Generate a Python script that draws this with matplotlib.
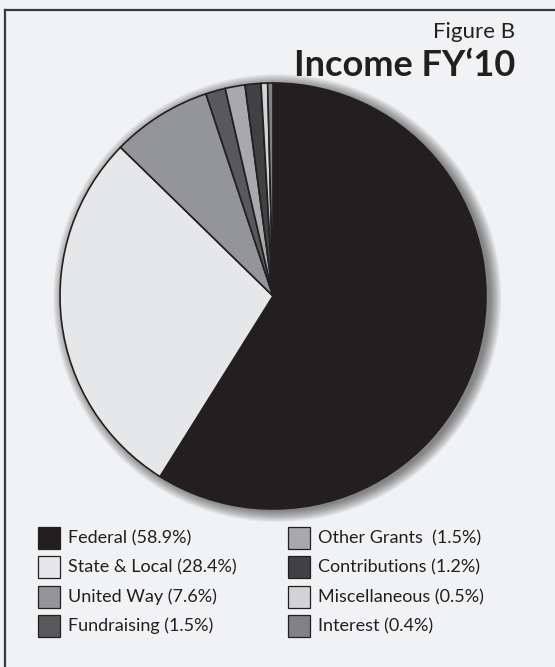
import matplotlib
matplotlib.use('Agg')
import matplotlib.pyplot as plt
from matplotlib.patches import Rectangle, Circle
from matplotlib.lines import Line2D

## data
labels = ['Federal', 'State & Local', 'United Way', 'Fundraising',
          'Other Grants', 'Contributions', 'Miscellaneous', 'Interest']
shares = [58.9, 28.4, 7.6, 1.5, 1.5, 1.2, 0.5, 0.4]
legend_text = ['Federal (58.9%)', 'State & Local (28.4%)', 'United Way (7.6%)',
               'Fundraising (1.5%)', 'Other Grants  (1.5%)', 'Contributions (1.2%)',
               'Miscellaneous (0.5%)', 'Interest (0.4%)']
colors = ['#231f20', '#e6e7e8', '#939598', '#58595b',
          '#a7a9ac', '#414042', '#d1d3d4', '#808285']

W, H = 555, 667
bg = '#f1f2f4'
font = 'Lato'

fig = plt.figure(figsize=(W / 100, H / 100), dpi=100, facecolor=bg)

## frame lines (top and left)
fig.add_artist(Line2D([5 / W, 1], [1 - 10 / H, 1 - 10 / H], color='#3a3a3c', lw=1.6))
fig.add_artist(Line2D([5 / W, 5 / W], [0, 1 - 10 / H], color='#3a3a3c', lw=1.6))

## pie
cx, cy, r = 273, 296, 213
ax = fig.add_axes([(cx - r) / W, 1 - (cy + r) / H, 2 * r / W, 2 * r / H])
ax.set_aspect('equal')
ax.axis('off')

# soft shadow, mostly to the right
for i in range(14):
    ax.add_patch(Circle((0.02, -0.01), 1 + 0.004 * i, color='#000000',
                        alpha=0.04, lw=0, zorder=0, clip_on=False))

ax.pie(shares, colors=colors, startangle=90, counterclock=False, radius=1,
       wedgeprops=dict(edgecolor='#231f20', linewidth=1.2, clip_on=False))
ax.set_xlim(-1, 1)
ax.set_ylim(-1, 1)

## titles
fig.text(515 / W, 1 - 38 / H, 'Figure B', ha='right', va='baseline',
         fontsize=16, family=font, color='#231f20')
fig.text(515 / W, 1 - 76 / H, 'Income FY\u201810', ha='right', va='baseline',
         fontsize=26, family=font, weight='bold', color='#231f20')

## legend
col_x = [38, 288]
row_y = [538, 567, 597, 626]
for i, (txt, c) in enumerate(zip(legend_text, colors)):
    x0 = col_x[i // 4]
    y0 = row_y[i % 4]
    fig.add_artist(Rectangle((x0 / W, 1 - (y0 + 11) / H), 22 / W, 22 / H,
                             facecolor=c, edgecolor='#231f20', lw=0.9))
    fig.text((x0 + 30) / W, 1 - y0 / H, txt, ha='left', va='center',
             fontsize=13, family=font, color='#231f20')

fig.savefig('out.png', dpi=100, facecolor=bg)
